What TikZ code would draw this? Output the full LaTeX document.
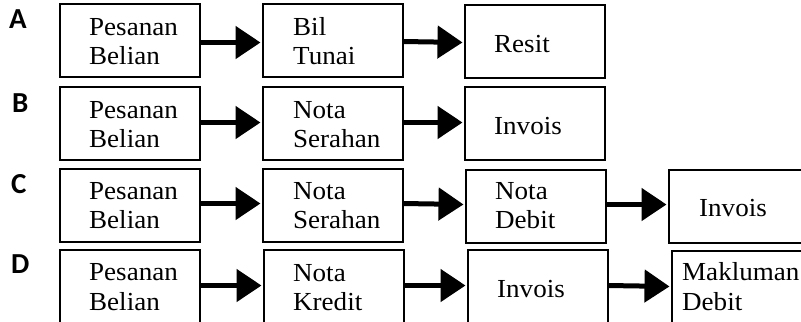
\documentclass[tikz,border=0pt]{standalone}
\usepackage{fontspec}
\setmainfont{Liberation Serif}[FakeStretch=1.04]
\newfontfamily\lblfont{Carlito}
\usetikzlibrary{arrows.meta,calc}
\begin{document}
\begin{tikzpicture}[x=1bp,y=-1bp,
  box/.style={draw,line width=2bp,minimum width=140bp,minimum height=73bp,inner sep=0pt,outer sep=0pt,anchor=north west},
  txt/.style={anchor=base west,inner sep=0pt,font=\fontsize{26bp}{30bp}\selectfont},
  lbl/.style={anchor=base west,inner sep=0pt,font=\lblfont\bfseries\fontsize{29bp}{33bp}\selectfont},
  arr/.style={line width=5bp,-{Triangle[length=25bp,width=32bp]},shorten >=2.5bp}]
\useasboundingbox (0,0) rectangle (801,321);
\clip (0,0) rectangle (801,321);
% labels
\node[lbl] (la) at (9,28) {A};
\node[lbl] (lb) at (12,112) {B};
\node[lbl] (lc) at (11,193) {C};
\node[lbl] (ld) at (11,273) {D};
% row A
\node[box] (a1) at (60,4) {};
\node[box] (a2) at (263,4) {};
\node[box] (a3) at (465,5) {};
\node[txt] (a1t) at ($(a1.north west)+(29,31)$) {Pesanan};
\node[txt] (a1u) at ($(a1.north west)+(29,60)$) {Belian};
\node[txt] (a2t) at ($(a2.north west)+(30,31)$) {Bil};
\node[txt] (a2u) at ($(a2.north west)+(30,60)$) {Tunai};
\node[txt] (a3t) at ($(a3.north west)+(29,47)$) {Resit};
\draw[arr] ($(a1.east)+(0,2)$) -- ($(a2.west)+(0,2)$);
\draw[arr] ($(a2.east)+(0,1)$) -- ($(a3.west)+(0,1)$);
% row B
\node[box] (b1) at (60,87) {};
\node[box] (b2) at (263,87) {};
\node[box] (b3) at (465,87) {};
\node[txt] (b1t) at ($(b1.north west)+(29,31)$) {Pesanan};
\node[txt] (b1u) at ($(b1.north west)+(29,60)$) {Belian};
\node[txt] (b2t) at ($(b2.north west)+(30,31)$) {Nota};
\node[txt] (b2u) at ($(b2.north west)+(30,60)$) {Serahan};
\node[txt] (b3t) at ($(b3.north west)+(29,47)$) {Invois};
\draw[arr] ($(b1.east)+(0,-1)$) -- ($(b2.west)+(0,-1)$);
\draw[arr] ($(b2.east)+(0,-1)$) -- ($(b3.west)+(0,-1)$);
% row C
\node[box] (c1) at (60,169) {};
\node[box] (c2) at (263,169) {};
\node[box] (c3) at (466,170) {};
\node[box] (c4) at (669,170) {};
\node[txt] (c1t) at ($(c1.north west)+(29,30)$) {Pesanan};
\node[txt] (c1u) at ($(c1.north west)+(29,59)$) {Belian};
\node[txt] (c2t) at ($(c2.north west)+(30,30)$) {Nota};
\node[txt] (c2u) at ($(c2.north west)+(30,59)$) {Serahan};
\node[txt] (c3t) at ($(c3.north west)+(29,29)$) {Nota};
\node[txt] (c3u) at ($(c3.north west)+(29,58)$) {Debit};
\node[txt] (c4t) at ($(c4.north west)+(30,46)$) {Invois};
\draw[arr] ($(c1.east)+(0,-2)$) -- ($(c2.west)+(0,-2)$);
\draw[arr] ($(c2.east)+(0,-2)$) -- ($(c3.west)+(0,-2)$);
\draw[arr] ($(c3.east)+(0,-2)$) -- ($(c4.west)+(0,-2)$);
% row D
\node[box] (d1) at (60,250) {};
\node[box] (d2) at (264,250) {};
\node[box] (d3) at (468,250) {};
\node[box] (d4) at (672,251) {};
\node[txt] (d1t) at ($(d1.north west)+(29,30)$) {Pesanan};
\node[txt] (d1u) at ($(d1.north west)+(29,60)$) {Belian};
\node[txt] (d2t) at ($(d2.north west)+(29,31)$) {Nota};
\node[txt] (d2u) at ($(d2.north west)+(29,60)$) {Kredit};
\node[txt] (d3t) at ($(d3.north west)+(29,47)$) {Invois};
\node[txt] (d4t) at ($(d4.north west)+(10,29)$) {Makluman};
\node[txt] (d4u) at ($(d4.north west)+(10,59)$) {Debit};
\draw[arr] ($(d1.east)+(0,-1)$) -- ($(d2.west)+(0,-1)$);
\draw[arr] ($(d2.east)+(0,-1)$) -- ($(d3.west)+(0,-1)$);
\draw[arr] ($(d3.east)+(0,-1)$) -- ($(d4.west)+(0,-1)$);
\end{tikzpicture}
\end{document}
